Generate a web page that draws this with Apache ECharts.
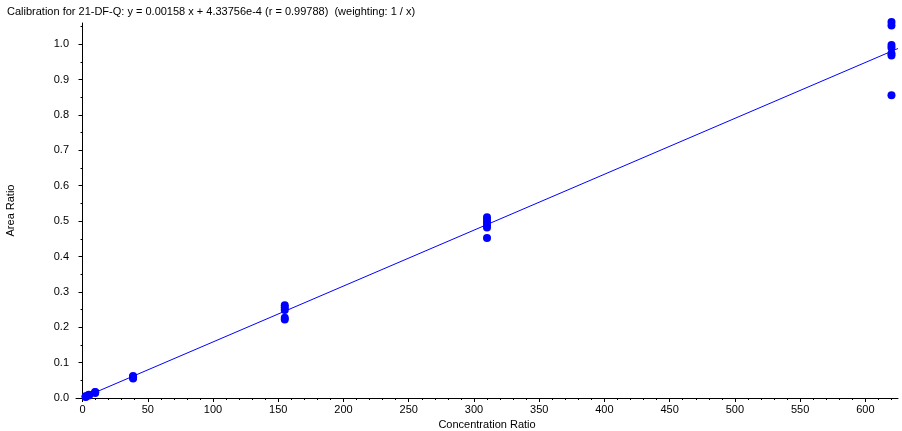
<!DOCTYPE html>
<html>
<head>
<meta charset="utf-8">
<script src="https://cdn.jsdelivr.net/npm/echarts@6/dist/echarts.min.js"></script>
<style>
html,body{margin:0;padding:0;background:#fff;}
#main{width:902px;height:431px;}
</style>
</head>
<body>
<div id="main"></div>
<script>
// calibration levels and measured area ratios
var concX = [2.42, 2.42, 2.42, 4.84, 4.84, 4.84, 9.69, 9.69, 9.69,
	38.75, 38.75, 38.75, 38.75,
	155, 155, 155, 155, 155,
	310, 310, 310, 310, 310, 310,
	620, 620, 620, 620, 620, 620, 620];
var areaY = [0.003, 0.004, 0.005, 0.007, 0.008, 0.009, 0.014, 0.016, 0.017,
	0.062, 0.058, 0.055, 0.060,
	0.262, 0.256, 0.249, 0.227, 0.222,
	0.511, 0.504, 0.496, 0.488, 0.482, 0.452,
	1.063, 1.053, 0.998, 0.990, 0.974, 0.968, 0.856];

// fit from the title
var slope = 0.00158;
var intercept = 4.33756e-4;
var fitX = [0, 625];

var xTicks = [0, 50, 100, 150, 200, 250, 300, 350, 400, 450, 500, 550, 600];
var xMinor = [];
for (var i = 10; i <= 620; i += 10) { if (i % 50) xMinor.push(i); }
var yTicks = [0, 0.1, 0.2, 0.3, 0.4, 0.5, 0.6, 0.7, 0.8, 0.9, 1.0];
var yMinor = [0.05, 0.15, 0.25, 0.35, 0.45, 0.55, 0.65, 0.75, 0.85, 0.95, 1.05];

var pts = [];
for (var i = 0; i < concX.length; i++) pts.push([concX[i], areaY[i]]);
var fit = [];
for (var i = 0; i < fitX.length; i++) fit.push([fitX[i], slope * fitX[i] + intercept]);

var font = 'Liberation Sans';
var myChart = echarts.init(document.getElementById('main'));
var option = {
	animation: false,
	title: {
		text: 'Calibration for 21-DF-Q: y = 0.00158 x + 4.33756e-4 (r = 0.99788)  (weighting: 1 / x)',
		left: 2, top: 1,
		textStyle: {fontFamily: font, fontSize: 11, fontWeight: 'normal', color: '#000'}
	},
	grid: {left: 76, right: 4, top: 23, bottom: 33, containLabel: false, outerBoundsMode: 'none'},
	xAxis: [{
		type: 'value', min: -5, max: 625,
		name: 'Concentration Ratio', nameLocation: 'middle', nameGap: 21,
		nameTextStyle: {fontFamily: font, fontSize: 11, color: '#000'},
		splitLine: {show: false},
		axisLine: {lineStyle: {color: '#000', width: 1}},
		axisTick: {customValues: xTicks, length: 4, lineStyle: {color: '#000'}},
		axisLabel: {customValues: xTicks, fontFamily: font, fontSize: 11, color: '#000', margin: 6}
	}, {
		type: 'value', min: -5, max: 625, position: 'bottom',
		splitLine: {show: false}, axisLine: {show: false},
		axisTick: {customValues: xMinor, length: 2, lineStyle: {color: '#000'}},
		axisLabel: {show: false}
	}],
	yAxis: [{
		type: 'value', min: 0, max: 1.06,
		name: 'Area Ratio', nameLocation: 'middle', nameGap: 60,
		nameTextStyle: {fontFamily: font, fontSize: 11, color: '#000'},
		splitLine: {show: false},
		axisLine: {show: true, lineStyle: {color: '#000', width: 1}},
		axisTick: {show: true, customValues: yTicks, length: 4, lineStyle: {color: '#000'}},
		axisLabel: {customValues: yTicks, fontFamily: font, fontSize: 11, color: '#000', margin: 7,
			formatter: function (v) { return v.toFixed(1); }}
	}, {
		type: 'value', min: 0, max: 1.06, position: 'left',
		splitLine: {show: false}, axisLine: {show: false},
		axisTick: {show: true, customValues: yMinor, length: 2, lineStyle: {color: '#000'}},
		axisLabel: {show: false}
	}],
	series: [{
		type: 'line', data: fit, symbol: 'none', silent: true,
		lineStyle: {color: '#0000ff', width: 1}
	}, {
		type: 'scatter', data: pts, symbol: 'circle', symbolSize: 8, clip: false,
		itemStyle: {color: '#0000ff', opacity: 1}
	}]
};
myChart.setOption(option);
</script>
</body>
</html>
